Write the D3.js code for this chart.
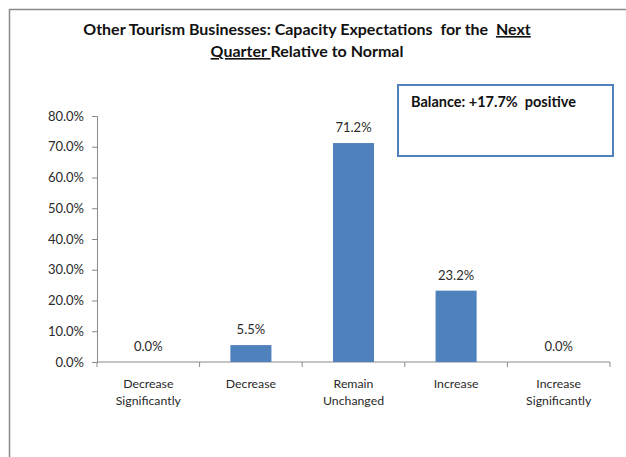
<!DOCTYPE html>
<html>
<head>
<meta charset="utf-8">
<script src="https://cdn.jsdelivr.net/npm/d3@7"></script>
<style>
  html, body { margin: 0; padding: 0; background: #fff; }
  svg { display: block; }
</style>
</head>
<body>
<svg id="chart" width="626" height="457"></svg>
<script>
// Capacity expectations for the next quarter (share of respondents)
const categories = [
  ["Decrease", "Significantly"],
  ["Decrease"],
  ["Remain", "Unchanged"],
  ["Increase"],
  ["Increase", "Significantly"]
];
const values = [0.0, 5.5, 71.2, 23.2, 0.0];
const yTicks = [0, 10, 20, 30, 40, 50, 60, 70, 80];
const balanceText = "Balance: +17.7%\u00a0 positive";

const font = "Lato, 'Open Sans', 'DejaVu Sans', sans-serif";
const svg = d3.select("#chart");

// outer frame
svg.append("path")
  .attr("d", "M9.5,457 V9.5 H626")
  .attr("fill", "none")
  .attr("stroke", "#8a8a8a")
  .attr("stroke-width", 1.5);

const margin = { left: 97, right: 610, top: 116, bottom: 362 };

const x = d3.scaleBand()
  .domain(d3.range(categories.length))
  .range([margin.left, margin.right])
  .paddingInner(0.6)
  .paddingOuter(0.3);

const xOuter = d3.scaleBand()
  .domain(d3.range(categories.length))
  .range([margin.left, margin.right]);

const y = d3.scaleLinear()
  .domain([0, 80])
  .range([margin.bottom, margin.top]);

// title
const title = svg.append("text")
  .attr("font-family", font)
  .attr("font-weight", "bold")
  .attr("font-size", 16)
  .attr("fill", "#111")
  .attr("text-anchor", "middle");
const l1 = title.append("tspan").attr("x", 307).attr("y", 35);
l1.append("tspan").text("Other Tourism Businesses: Capacity Expectations\u00a0 for the\u00a0 ");
l1.append("tspan").attr("text-decoration", "underline").text("Next");
const l2 = title.append("tspan").attr("x", 307).attr("y", 57);
l2.append("tspan").attr("text-decoration", "underline").text("Quarter\u00a0");
l2.append("tspan").text("Relative to Normal");

// y axis
const yAxis = d3.axisLeft(y)
  .tickValues(yTicks)
  .tickFormat(d => d.toFixed(1) + "%")
  .tickSize(5)
  .tickPadding(8);
const gy = svg.append("g")
  .attr("transform", `translate(${margin.left},0)`)
  .call(yAxis);
gy.select(".domain").attr("stroke", "#8a8a8a");
gy.selectAll(".tick line").attr("stroke", "#8a8a8a");
gy.selectAll(".tick text")
  .attr("font-family", font)
  .attr("font-size", 13)
  .attr("fill", "#2a2a2a");

// x axis with ticks between categories
const gx = svg.append("g")
  .attr("transform", `translate(0,${margin.bottom})`);
gx.append("line")
  .attr("x1", margin.left).attr("x2", margin.right)
  .attr("stroke", "#8a8a8a");
gx.selectAll("line.sep")
  .data(d3.range(categories.length + 1))
  .join("line")
  .attr("class", "sep")
  .attr("x1", i => i < categories.length ? xOuter(i) : margin.right)
  .attr("x2", i => i < categories.length ? xOuter(i) : margin.right)
  .attr("y1", 0).attr("y2", 5)
  .attr("stroke", "#8a8a8a");

const catLabels = svg.append("g")
  .attr("font-family", font)
  .attr("font-size", 12.3)
  .attr("fill", "#2a2a2a")
  .attr("text-anchor", "middle");
categories.forEach((lines, i) => {
  const t = catLabels.append("text");
  lines.forEach((s, j) => {
    t.append("tspan")
      .attr("x", xOuter(i) + xOuter.bandwidth() / 2)
      .attr("y", 388 + j * 17)
      .text(s);
  });
});

// bars
svg.append("g")
  .selectAll("rect")
  .data(values)
  .join("rect")
  .attr("x", (d, i) => x(i))
  .attr("y", d => y(d))
  .attr("width", x.bandwidth())
  .attr("height", d => y(0) - y(d))
  .attr("fill", "#4f81bd");

// value labels
svg.append("g")
  .selectAll("text")
  .data(values)
  .join("text")
  .attr("x", (d, i) => x(i) + x.bandwidth() / 2)
  .attr("y", d => y(d) - 11)
  .attr("text-anchor", "middle")
  .attr("font-family", font)
  .attr("font-size", 13)
  .attr("fill", "#2a2a2a")
  .text(d => d.toFixed(1) + "%");

// balance box
svg.append("rect")
  .attr("x", 398).attr("y", 85)
  .attr("width", 215).attr("height", 71)
  .attr("fill", "#fff")
  .attr("stroke", "#4f81bd")
  .attr("stroke-width", 2);
svg.append("text")
  .attr("x", 411).attr("y", 107)
  .attr("font-family", font)
  .attr("font-weight", "bold")
  .attr("font-size", 14.5)
  .attr("fill", "#111")
  .text(balanceText);
</script>
</body>
</html>
